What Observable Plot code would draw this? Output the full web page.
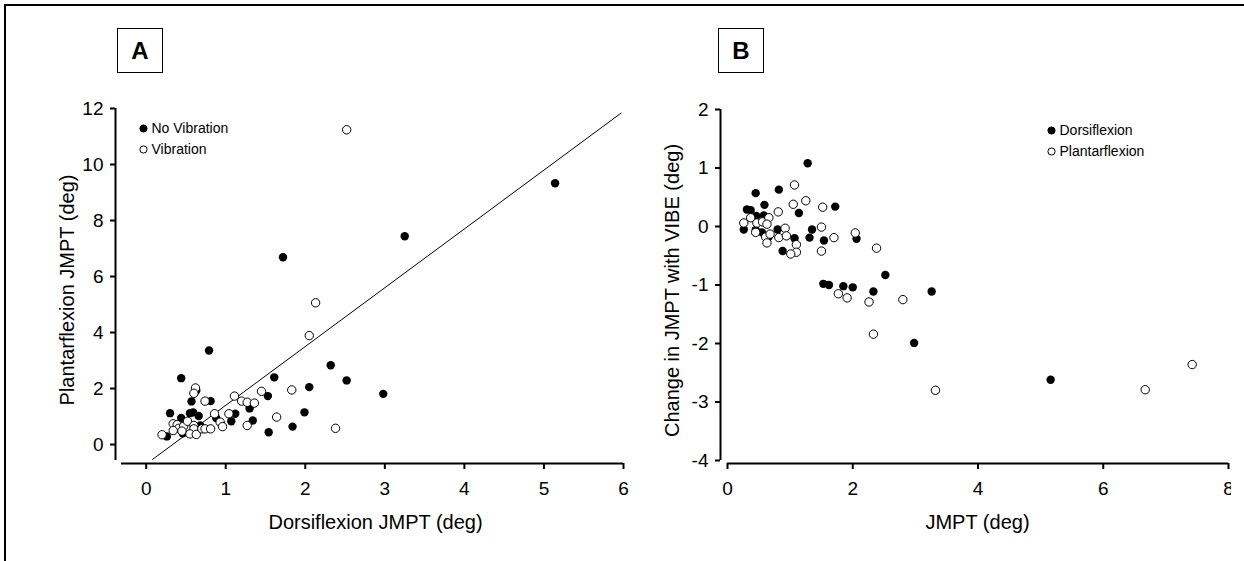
<!DOCTYPE html>
<html>
<head>
<meta charset="utf-8">
<script src="https://cdn.jsdelivr.net/npm/d3@7"></script>
<script src="https://cdn.jsdelivr.net/npm/@observablehq/plot@0.6"></script>
<style>
  body { margin: 0; background: #fff; }
  #figure { position: relative; width: 1244px; height: 561px; overflow: hidden; background: #fff;
            font-family: "Liberation Sans", Arial, sans-serif; color: #000; }
  #border { position: absolute; left: 4px; top: 4px; width: 1400px; height: 700px;
            border-left: 2px solid #000; border-top: 2px solid #000; pointer-events: none; }
  .panel-tag { position: absolute; width: 44px; height: 43px; border: 1.5px solid #000;
               font-weight: bold; font-size: 24px; display: flex; align-items: center; justify-content: center; }
  #panelA, #panelB { position: absolute; top: 0; }
  #panelA { left: 0; }
  #panelB { left: 620px; width: 611px; height: 561px; overflow: hidden; }
</style>
</head>
<body>
<div id="figure">
  <div id="panelA"></div>
  <div id="panelB"></div>
  <div class="panel-tag" style="left:117px;top:28px">A</div>
  <div class="panel-tag" style="left:718px;top:28px">B</div>
  <div id="border"></div>
</div>
<script>
// Panel A: joint movement perception threshold, dorsiflexion vs plantarflexion (deg)
const noVibDorsi   = [0.26, 0.30, 0.44, 0.44, 0.46, 0.55, 0.59, 0.57, 0.63, 0.66, 0.68, 0.79, 0.81, 0.88, 1.07,
                      1.12, 1.30, 1.34, 1.53, 1.54, 1.61, 1.72, 1.84, 1.99, 2.05, 2.32, 2.52, 2.98, 3.25, 5.14];
const noVibPlantar = [0.29, 1.12, 2.37, 0.95, 0.40, 1.12, 1.15, 1.54, 1.93, 1.02, 0.68, 3.36, 1.55, 0.95, 0.83,
                      1.10, 1.29, 0.86, 1.73, 0.44, 2.40, 6.69, 0.64, 1.15, 2.05, 2.83, 2.29, 1.81, 7.44, 9.33];
const vibDorsi     = [0.20, 0.34, 0.39, 0.41, 0.34, 0.47, 0.52, 0.60, 0.60, 0.55, 0.63, 0.70, 0.74, 0.81, 0.45,
                      0.62, 0.60, 0.74, 0.86, 0.93, 0.96, 1.04, 1.11, 1.20, 1.27, 1.36, 1.27, 1.45, 1.64, 1.83,
                      2.05, 2.13, 2.38, 2.52];
const vibPlantar   = [0.35, 0.74, 0.71, 0.58, 0.50, 0.65, 0.83, 0.68, 0.56, 0.38, 0.36, 0.56, 0.56, 0.56, 0.48,
                      2.02, 1.83, 1.55, 1.10, 0.80, 0.64, 1.10, 1.73, 1.55, 1.51, 1.48, 0.68, 1.90, 0.98, 1.95,
                      3.89, 5.06, 0.58, 11.24];
// fitted line drawn across panel A
const fitA = {slope: 2.10, intercept: -0.70, from: 0.08, to: 5.97};

// Panel B: change in threshold with vibration against baseline threshold
const dorsiJmpt   = [1.28, 0.45, 0.82, 0.59, 1.72, 0.31, 0.37, 1.14, 0.46, 0.58, 0.26, 0.80, 1.35, 1.07, 1.31,
                     1.54, 2.06, 0.88, 0.55, 0.66, 0.45, 1.53, 1.62, 1.85, 2.00, 2.52, 2.33, 3.26, 2.98, 5.16];
const dorsiChange = [1.08, 0.57, 0.63, 0.37, 0.34, 0.29, 0.28, 0.23, 0.18, 0.19, -0.05, -0.05, -0.05, -0.20, -0.19,
                     -0.24, -0.21, -0.42, -0.10, -0.17, -0.06, -0.98, -1.00, -1.02, -1.04, -0.83, -1.11, -1.11, -1.99, -2.62];
const plantarJmpt   = [1.07, 1.05, 1.25, 1.52, 0.81, 0.26, 0.37, 0.47, 0.56, 0.66, 0.63, 0.45, 0.61, 0.63, 0.68,
                       0.92, 0.82, 0.94, 1.10, 1.10, 1.01, 1.50, 1.70, 1.50, 2.04, 2.38, 1.77, 1.91, 2.26, 2.80,
                       2.33, 3.32, 6.67, 7.42];
const plantarChange = [0.71, 0.38, 0.44, 0.33, 0.25, 0.06, 0.15, 0.06, 0.08, 0.15, 0.04, -0.10, -0.18, -0.28, -0.13,
                       -0.03, -0.19, -0.16, -0.31, -0.44, -0.47, -0.01, -0.19, -0.42, -0.11, -0.37, -1.15, -1.22, -1.29, -1.25,
                       -1.84, -2.80, -2.79, -2.36];

// axis ticks, labels and legend entries
const xTicksA = [0, 1, 2, 3, 4, 5, 6];
const yTicksA = [0, 2, 4, 6, 8, 10, 12];
const xTicksB = [0, 2, 4, 6, 8];
const yTicksB = [2, 1, 0, -1, -2, -3, -4];
const xTitleA = "Dorsiflexion JMPT (deg)";
const yTitleA = "Plantarflexion JMPT (deg)";
const xTitleB = "JMPT (deg)";
const yTitleB = "Change in JMPT with VIBE (deg)";
const legendA = ["No Vibration", "Vibration"];
const legendB = ["Dorsiflexion", "Plantarflexion"];

const font = "'Liberation Sans', Arial, sans-serif";
const zip = (xs, ys) => xs.map((x, i) => ({x, y: ys[i]}));
const fitLineA = [fitA.from, fitA.to].map(x => ({x, y: fitA.slope * x + fitA.intercept}));
const plain = d => String(d);

const xDomA = [-0.31, 6], yDomA = [-0.57, 12];
const xDomB = [0, 8], yDomB = [-4, 2];
const dotR = 4.2;

function legendMarks(entries, dx, dy0, gap) {
  return entries.flatMap((label, i) => [
    Plot.dot([label], {frameAnchor: "top-left", dx, dy: dy0 + i * gap, r: 3.6,
                       fill: i === 0 ? "black" : "white", stroke: "black", strokeWidth: 1}),
    Plot.text([label], {frameAnchor: "top-left", dx: dx + 8, dy: dy0 + i * gap, textAnchor: "start",
                        lineAnchor: "middle", fontSize: 14, fill: "black"})
  ]);
}

function titleMarks(xTitle, yTitle, xShift) {
  return [
    Plot.text([xTitle], {frameAnchor: "bottom", dx: xShift, dy: 59, textAnchor: "middle", lineAnchor: "middle",
                         fontSize: 20, fill: "black"}),
    Plot.text([yTitle], {frameAnchor: "left", rotate: -90, dx: -48, dy: 4, textAnchor: "middle", lineAnchor: "middle",
                         fontSize: 20, fill: "black"})
  ];
}

const common = {
  height: 561,
  marginTop: 108,
  marginBottom: 98,
  style: {fontFamily: font, fontSize: "19px", color: "#000", background: "none", overflow: "visible"}
};

const chartA = Plot.plot({
  ...common,
  width: 650,
  marginLeft: 115,
  marginRight: 27,
  x: {domain: xDomA, insetLeft: 6, axis: null},
  y: {domain: yDomA, insetBottom: 3, axis: null},
  marks: [
    Plot.ruleY([yDomA[0]], {x1: xDomA[0], x2: xDomA[1], dy: 3, strokeWidth: 2}),
    Plot.ruleX([xDomA[0]], {y1: yDomA[0], y2: yDomA[1], dx: -6, strokeWidth: 2}),
    Plot.axisX({ticks: xTicksA, tickFormat: plain, tickSize: 6, tickPadding: 12, strokeWidth: 2, label: null, fontSize: 19}),
    Plot.axisY({ticks: yTicksA, tickFormat: plain, tickSize: 5, tickPadding: 7, strokeWidth: 2, label: null, fontSize: 19}),
    ...titleMarks(xTitleA, yTitleA, 6),
    Plot.line(fitLineA, {x: "x", y: "y", stroke: "black", strokeWidth: 1}),
    Plot.dot(zip(noVibDorsi, noVibPlantar), {x: "x", y: "y", r: dotR, fill: "black"}),
    Plot.dot(zip(vibDorsi, vibPlantar), {x: "x", y: "y", r: dotR, fill: "white", stroke: "black", strokeWidth: 1}),
    ...legendMarks(legendA, 28, 20, 21)
  ]
});

const chartB = Plot.plot({
  ...common,
  width: 611,
  marginLeft: 100,
  marginRight: 3,
  marginTop: 109,
  x: {domain: xDomB, insetLeft: 7, axis: null},
  y: {domain: yDomB, insetBottom: 3, axis: null},
  marks: [
    Plot.ruleY([yDomB[0]], {x1: xDomB[0], x2: xDomB[1], dy: 3, strokeWidth: 2}),
    Plot.ruleX([xDomB[0]], {y1: yDomB[0], y2: yDomB[1], dx: -7, strokeWidth: 2}),
    Plot.axisX({ticks: xTicksB, tickFormat: plain, tickSize: 6, tickPadding: 12, strokeWidth: 2, label: null, fontSize: 19}),
    Plot.axisY({ticks: yTicksB, tickFormat: plain, tickSize: 5, tickPadding: 7, strokeWidth: 2, label: null, fontSize: 19}),
    ...titleMarks(xTitleB, yTitleB, 3),
    Plot.dot(zip(dorsiJmpt, dorsiChange), {x: "x", y: "y", r: dotR, fill: "black"}),
    Plot.dot(zip(plantarJmpt, plantarChange), {x: "x", y: "y", r: dotR, fill: "white", stroke: "black", strokeWidth: 1}),
    ...legendMarks(legendB, 331, 21, 21)
  ]
});

document.getElementById("panelA").appendChild(chartA);
document.getElementById("panelB").appendChild(chartB);
</script>
</body>
</html>
